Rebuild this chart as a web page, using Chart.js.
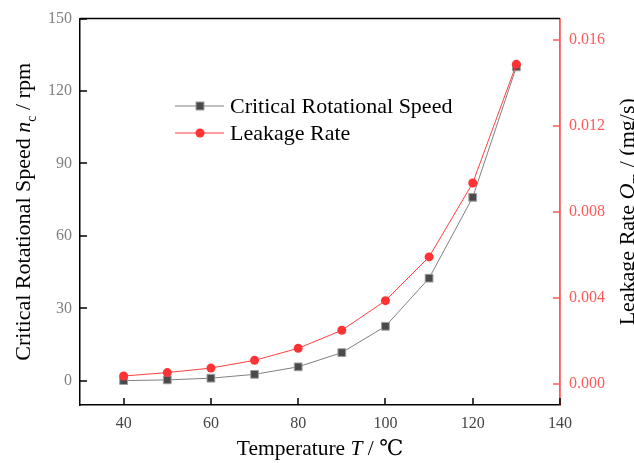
<!DOCTYPE html>
<html>
<head>
<meta charset="utf-8">
<script src="https://cdn.jsdelivr.net/npm/chart.js@4.4.1/dist/chart.umd.min.js"></script>
<style>
html,body{margin:0;padding:0;background:#fff;}
#wrap{width:634px;height:463px;position:relative;}
</style>
</head>
<body>
<div id="wrap"><canvas id="c" width="634" height="463"></canvas></div>
<script>
// ---- data ----
const temperatures = [40, 50, 60, 70, 80, 90, 100, 110, 120, 130];
const criticalSpeed = [0.1, 0.4, 1.1, 2.7, 5.8, 11.7, 22.6, 42.5, 76.0, 130.0];
const leakageRate = [0.00035, 0.00051, 0.00072, 0.00108, 0.00164, 0.00248, 0.00386, 0.0059, 0.00934, 0.01487];
const xTicks = [40, 60, 80, 100, 120, 140];
const leftTicks = [0, 30, 60, 90, 120, 150];
const rightTicks = [0, 0.004, 0.008, 0.012, 0.016];
const seriesNames = ['Critical Rotational Speed', 'Leakage Rate'];

const SERIF = '"Liberation Serif", "DejaVu Serif", serif';
const RED = '#ff5a5a';

function drawRich(ctx, parts, x, y, rot, size) {
  ctx.save();
  ctx.translate(x, y);
  if (rot) ctx.rotate(rot);
  ctx.textBaseline = 'alphabetic';
  ctx.textAlign = 'left';
  const fontFor = p => (p.italic ? 'italic ' : '') + (p.sub ? Math.round(size*0.65) : size) + 'px ' + SERIF;
  let total = 0;
  parts.forEach(p => { ctx.font = fontFor(p); total += ctx.measureText(p.t).width; });
  let cx = -total / 2;
  parts.forEach(p => {
    ctx.font = fontFor(p);
    ctx.fillText(p.t, cx, p.sub ? size*0.25 : 0);
    cx += ctx.measureText(p.t).width;
  });
  ctx.restore();
}

const decor = {
  id: 'decor',
  afterDraw(chart) {
    const ctx = chart.ctx;
    const a = chart.chartArea;
    const sx = chart.scales.x, yl = chart.scales.y, yr = chart.scales.y2;
    ctx.save();
    // frame top
    ctx.strokeStyle = '#000';
    ctx.lineWidth = 1.5;
    ctx.beginPath();
    ctx.moveTo(a.left, a.top); ctx.lineTo(a.right, a.top);
    ctx.stroke();
    // inward ticks
    ctx.lineWidth = 1.5;
    ctx.beginPath();
    xTicks.forEach(v => { const px = Math.round(sx.getPixelForValue(v)); ctx.moveTo(px, a.bottom); ctx.lineTo(px, a.bottom - 7); });
    leftTicks.forEach(v => { const py = Math.round(yl.getPixelForValue(v)); ctx.moveTo(a.left, py); ctx.lineTo(a.left + 7, py); });
    ctx.stroke();
    ctx.strokeStyle = RED;
    ctx.beginPath();
    rightTicks.forEach(v => { const py = Math.round(yr.getPixelForValue(v)); ctx.moveTo(a.right, py); ctx.lineTo(a.right - 7, py); });
    ctx.stroke();

    // legend
    const ds = chart.data.datasets;
    const rows = [{d: ds[1], y: 106}, {d: ds[0], y: 133}];
    rows.forEach(r => {
      ctx.strokeStyle = r.d.borderColor;
      ctx.lineWidth = 1;
      ctx.beginPath(); ctx.moveTo(175, r.y); ctx.lineTo(224, r.y); ctx.stroke();
      if (r.d.pointStyle === 'rect') {
        ctx.fillStyle = r.d.pointBackgroundColor;
        ctx.fillRect(196, r.y - 4, 8, 8);
        ctx.strokeStyle = r.d.pointBorderColor; ctx.strokeRect(196, r.y - 4, 8, 8);
      } else {
        ctx.fillStyle = r.d.pointBackgroundColor;
        ctx.beginPath(); ctx.arc(200, r.y, 4.5, 0, Math.PI*2); ctx.fill();
      }
      ctx.fillStyle = '#000';
      ctx.font = '22px ' + SERIF;
      ctx.textBaseline = 'middle';
      ctx.textAlign = 'left';
      ctx.fillText(r.d.label, 230, r.y + 1);
    });

    // axis titles
    ctx.fillStyle = '#000';
    drawRich(ctx, [{t:'Temperature '}, {t:'T', italic:true}, {t:' / \u2103'}], (a.left + a.right)/2, 455, 0, 21.5);
    drawRich(ctx, [{t:'Critical Rotational Speed '}, {t:'n', italic:true}, {t:'c', sub:true}, {t:' / rpm'}], 30, (a.top + a.bottom)/2, -Math.PI/2, 22);
    drawRich(ctx, [{t:'Leakage Rate '}, {t:'Q', italic:true}, {t:'m', sub:true}, {t:' / (mg/s)'}], 634, (a.top + a.bottom)/2, -Math.PI/2, 22);
    ctx.restore();
  }
};

new Chart(document.getElementById('c'), {
  type: 'line',
  data: {
    labels: temperatures,
    datasets: [
      {
        label: seriesNames[1],
        data: temperatures.map((t, i) => ({x: t, y: leakageRate[i]})),
        yAxisID: 'y2',
        borderColor: '#ff4040',
        borderWidth: 1,
        pointStyle: 'circle',
        pointRadius: 4.5,
        pointBackgroundColor: '#ff3333',
        pointBorderColor: '#ff3333',
        pointBorderWidth: 0,
        order: 0,
        tension: 0
      },
      {
        label: seriesNames[0],
        data: temperatures.map((t, i) => ({x: t, y: criticalSpeed[i]})),
        yAxisID: 'y',
        borderColor: '#808080',
        borderWidth: 1,
        pointStyle: 'rect',
        pointRadius: 5.5,
        pointBackgroundColor: '#4a4a4a',
        pointBorderColor: '#a0a0a0',
        pointBorderWidth: 1,
        order: 1,
        tension: 0
      }
    ]
  },
  options: {
    responsive: false,
    animation: false,
    layout: { padding: { top: 18, left: 0, right: 0, bottom: 0 } },
    plugins: { legend: { display: false }, tooltip: { enabled: false } },
    scales: {
      x: {
        type: 'linear',
        min: 30, max: 140,
        afterBuildTicks: s => { s.ticks = xTicks.map(v => ({value: v})); },
        afterFit: s => { s.height = 58; },
        grid: { display: true, drawOnChartArea: false, drawTicks: false },
        border: { color: '#000', width: 1.5 },
        ticks: { color: '#444', font: { family: SERIF, size: 16 }, padding: 9, maxRotation: 0 }
      },
      y: {
        position: 'left',
        min: -10, max: 150,
        afterBuildTicks: s => { s.ticks = leftTicks.map(v => ({value: v})); },
        afterFit: s => { s.width = 80; },
        grid: { display: true, drawOnChartArea: false, drawTicks: false },
        border: { color: '#000', width: 1.5 },
        ticks: { color: '#808080', font: { family: SERIF, size: 16 }, padding: 8 }
      },
      y2: {
        position: 'right',
        min: -0.001, max: 0.017,
        afterBuildTicks: s => { s.ticks = rightTicks.map(v => ({value: v})); },
        afterFit: s => { s.width = 74; },
        grid: { display: true, drawOnChartArea: false, drawTicks: false },
        border: { color: RED, width: 1.8 },
        ticks: { color: RED, font: { family: SERIF, size: 16 }, padding: 9, callback: v => v.toFixed(3) }
      }
    }
  },
  plugins: [decor]
});
</script>
</body>
</html>
